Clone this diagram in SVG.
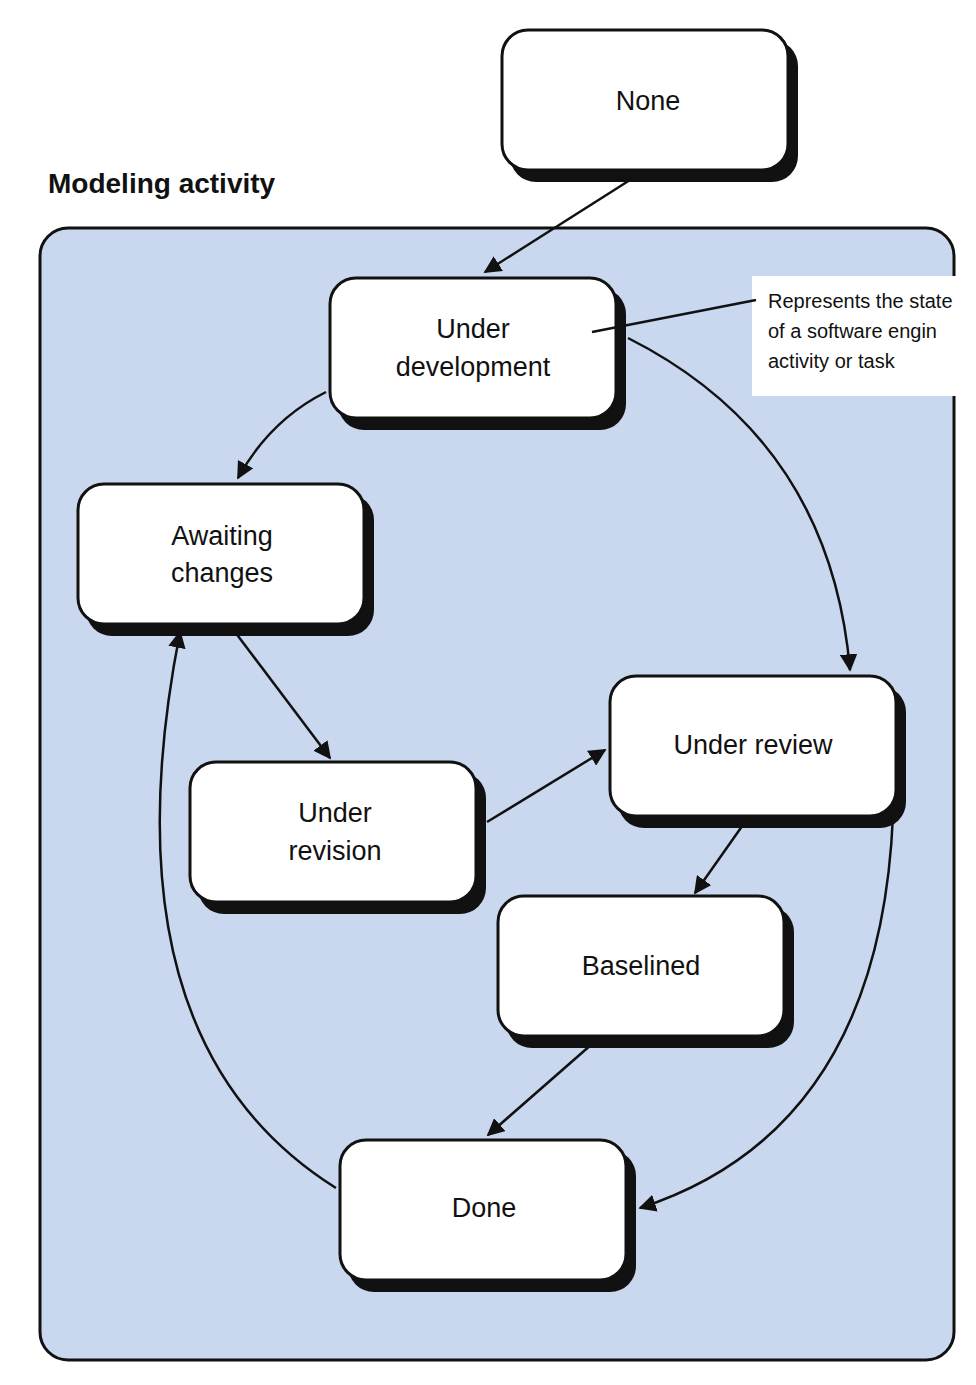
<svg xmlns="http://www.w3.org/2000/svg" width="976" height="1385" viewBox="0 0 976 1385">
<defs>
<style>
.node rect.sh{fill:#111}
.node rect.bx{fill:#fff;stroke:#111;stroke-width:3}
.node text,.lbl{font-family:"Liberation Sans",Arial,sans-serif;font-size:27px;fill:#111;text-anchor:middle}
.con path{fill:none;stroke:#111;stroke-width:2.5;marker-end:url(#ah)}
</style>
<marker id="ah" viewBox="0 0 10 10" refX="9" refY="5" markerWidth="7" markerHeight="7" orient="auto"><path d="M0,0 L10,5 L0,10 z" fill="#111"/></marker>
</defs>
<rect width="976" height="1385" fill="#fff"/>
<text x="48" y="193" font-family="Liberation Sans,Arial,sans-serif" font-weight="bold" font-size="28" fill="#111">Modeling activity</text>
<rect x="40" y="228" width="914" height="1132" rx="28" fill="#c9d8ef" stroke="#111" stroke-width="3"/>
<g id="callout">
<rect x="752" y="276" width="224" height="120" fill="#fff"/>
<text x="768" y="308" font-family="Liberation Sans,Arial,sans-serif" font-size="20" fill="#111">Represents the state</text>
<text x="768" y="338" font-family="Liberation Sans,Arial,sans-serif" font-size="20" fill="#111">of a software engin</text>
<text x="768" y="368" font-family="Liberation Sans,Arial,sans-serif" font-size="20" fill="#111">activity or task</text>
</g>
<g id="n-none" class="node"><rect class="sh" x="510" y="40" width="288" height="142" rx="26"/><rect class="bx" x="502" y="30" width="286" height="140" rx="26"/><text x="648" y="110">None</text></g>
<g id="n-dev" class="node"><rect class="sh" x="338" y="288" width="288" height="142" rx="26"/><rect class="bx" x="330" y="278" width="286" height="140" rx="26"/><text x="473" y="338">Under</text><text x="473" y="376">development</text></g>
<g id="n-await" class="node"><rect class="sh" x="86" y="494" width="288" height="142" rx="26"/><rect class="bx" x="78" y="484" width="286" height="140" rx="26"/><text x="222" y="545">Awaiting</text><text x="222" y="582">changes</text></g>
<g id="n-rev" class="node"><rect class="sh" x="198" y="772" width="288" height="142" rx="26"/><rect class="bx" x="190" y="762" width="286" height="140" rx="26"/><text x="335" y="822">Under</text><text x="335" y="860">revision</text></g>
<g id="n-review" class="node"><rect class="sh" x="618" y="686" width="288" height="142" rx="26"/><rect class="bx" x="610" y="676" width="286" height="140" rx="26"/><text x="753" y="754">Under review</text></g>
<g id="n-base" class="node"><rect class="sh" x="506" y="906" width="288" height="142" rx="26"/><rect class="bx" x="498" y="896" width="286" height="140" rx="26"/><text x="641" y="975">Baselined</text></g>
<g id="n-done" class="node"><rect class="sh" x="348" y="1150" width="288" height="142" rx="26"/><rect class="bx" x="340" y="1140" width="286" height="140" rx="26"/><text x="484" y="1217">Done</text></g>
<g id="connectors" class="con">
<path d="M630,180 L485,272"/>
<path d="M326,392 Q270,420 238,478"/>
<path d="M235,632 L330,758"/>
<path d="M487,822 L605,750"/>
<path d="M745,822 L695,893"/>
<path d="M592,1044 L488,1135"/>
<path d="M628,338 Q830,440 850,670"/>
<path d="M893,815 Q880,1130 640,1208"/>
<path d="M336,1188 Q100,1040 180,632"/>
<path d="M592,332 L756,300" style="marker-end:none"/>
</g>
</svg>
